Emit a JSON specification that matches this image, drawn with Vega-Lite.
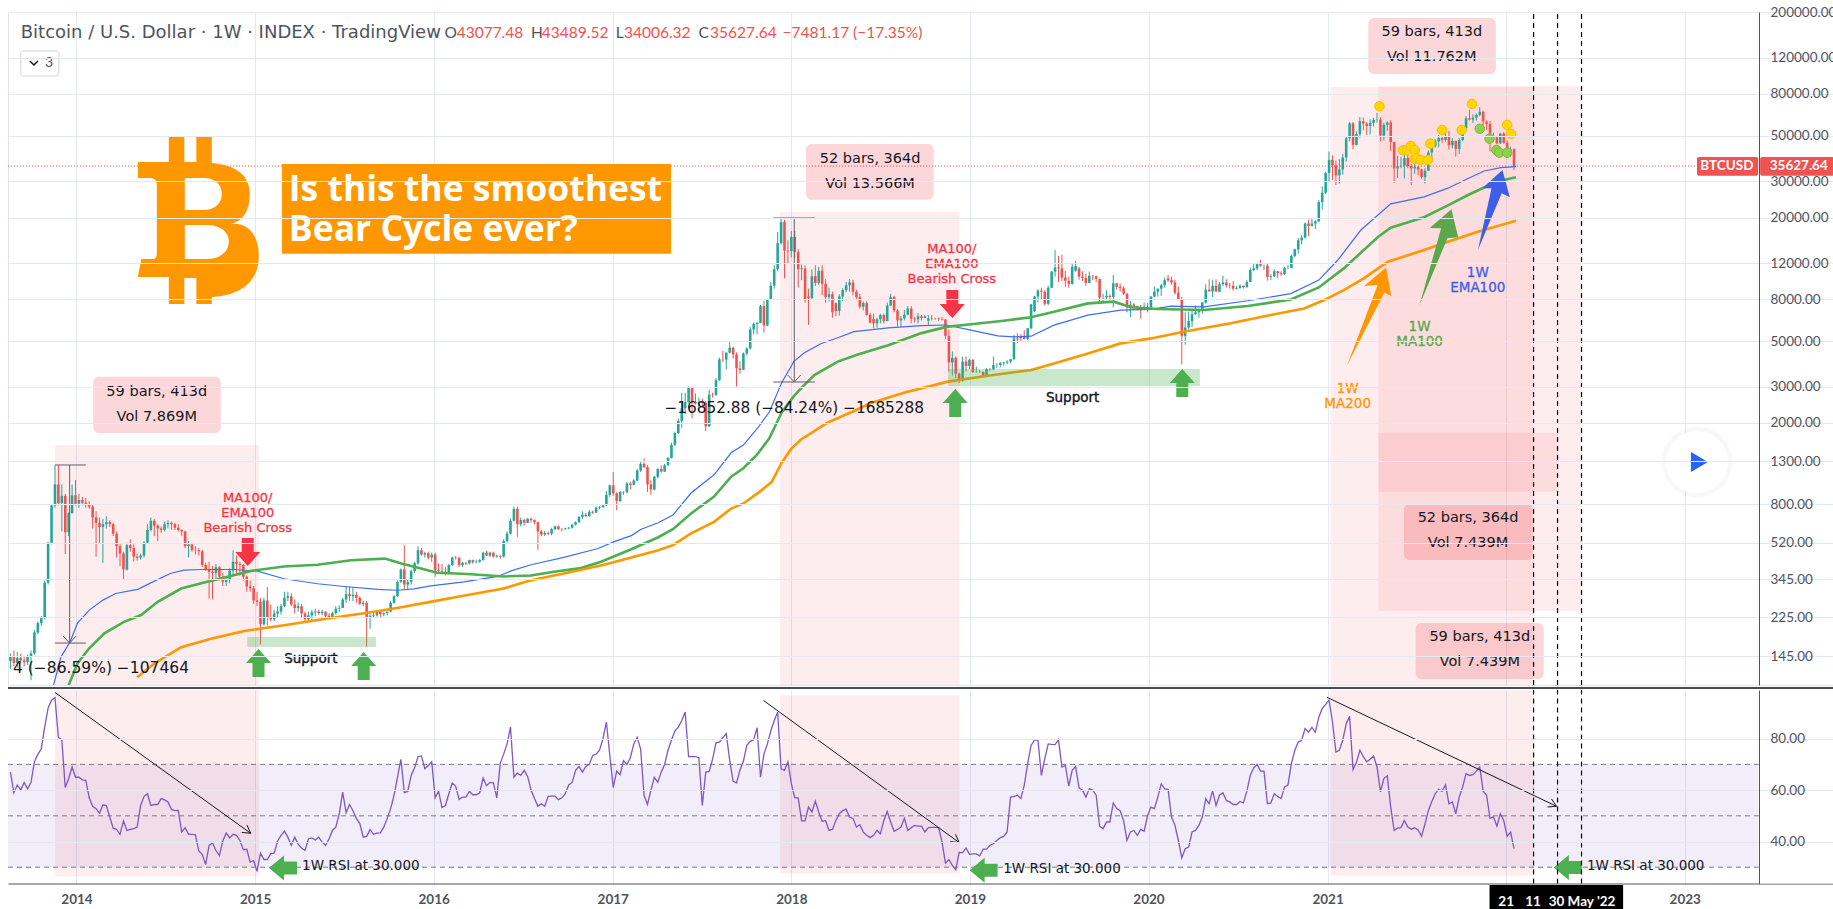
{
"$schema":"https://vega.github.io/schema/vega-lite/v6.json",
"padding":{"left":7,"top":4,"right":0,"bottom":0},
"spacing":0,
"config":{"font":"Lato","view":{"stroke":null},"concat":{"spacing":0}},
"datasets":{
"bars":[
{"d":"2013-08-19","o":138,"h":150,"l":126,"c":146,"r":67},{"d":"2013-08-26","o":146,"h":155,"l":130,"c":135,"r":59},{"d":"2013-09-02","o":135,"h":153,"l":128,"c":143,"r":62},{"d":"2013-09-09","o":143,"h":150,"l":134,"c":139,"r":60},{"d":"2013-09-16","o":139,"h":146,"l":130,"c":136,"r":63},{"d":"2013-09-23","o":136,"h":148,"l":132,"c":145,"r":60.5},{"d":"2013-09-30","o":145,"h":155,"l":111,"c":150,"r":63},{"d":"2013-10-07","o":150,"h":195,"l":148,"c":190,"r":71},{"d":"2013-10-14","o":190,"h":215,"l":186,"c":211,"r":74},{"d":"2013-10-21","o":211,"h":228,"l":205,"c":224,"r":76},{"d":"2013-10-28","o":224,"h":340,"l":220,"c":332,"r":84.5},{"d":"2013-11-04","o":332,"h":525,"l":325,"c":520,"r":92},{"d":"2013-11-11","o":520,"h":800,"l":510,"c":790,"r":95},{"d":"2013-11-18","o":790,"h":1241,"l":770,"c":1000,"r":96},{"d":"2013-11-25","o":1000,"h":1241,"l":790,"c":810,"r":80.5},{"d":"2013-12-02","o":810,"h":1000,"l":590,"c":880,"r":79.6},{"d":"2013-12-09","o":880,"h":900,"l":458,"c":585,"r":61},{"d":"2013-12-16","o":585,"h":730,"l":560,"c":725,"r":64.5},{"d":"2013-12-23","o":725,"h":1000,"l":720,"c":885,"r":69},{"d":"2013-12-30","o":885,"h":1050,"l":790,"c":805,"r":65},
{"d":"2014-01-06","o":805,"h":900,"l":770,"c":840,"r":65},{"d":"2014-01-13","o":840,"h":870,"l":790,"c":815,"r":64},{"d":"2014-01-20","o":815,"h":860,"l":770,"c":800,"r":63.8},{"d":"2014-01-27","o":800,"h":830,"l":760,"c":780,"r":57},{"d":"2014-02-03","o":780,"h":800,"l":610,"c":690,"r":53.7},{"d":"2014-02-10","o":690,"h":740,"l":445,"c":650,"r":52.8},{"d":"2014-02-17","o":650,"h":690,"l":520,"c":620,"r":51},{"d":"2014-02-24","o":620,"h":680,"l":415,"c":640,"r":54.3},{"d":"2014-03-03","o":640,"h":700,"l":610,"c":655,"r":54},{"d":"2014-03-10","o":655,"h":670,"l":620,"c":640,"r":49.5},{"d":"2014-03-17","o":640,"h":650,"l":560,"c":575,"r":45.2},{"d":"2014-03-24","o":575,"h":590,"l":440,"c":500,"r":44.7},{"d":"2014-03-31","o":500,"h":515,"l":400,"c":460,"r":42.8},{"d":"2014-04-07","o":460,"h":470,"l":342,"c":385,"r":48},{"d":"2014-04-14","o":385,"h":520,"l":380,"c":505,"r":44.3},{"d":"2014-04-21","o":505,"h":540,"l":470,"c":490,"r":44.7},{"d":"2014-04-28","o":490,"h":510,"l":420,"c":445,"r":45},{"d":"2014-05-05","o":445,"h":460,"l":425,"c":440,"r":45.6},{"d":"2014-05-12","o":440,"h":460,"l":430,"c":450,"r":54},{"d":"2014-05-19","o":450,"h":530,"l":440,"c":520,"r":57.5},{"d":"2014-05-26","o":520,"h":640,"l":515,"c":600,"r":58.6},{"d":"2014-06-02","o":600,"h":690,"l":590,"c":665,"r":54},{"d":"2014-06-09","o":665,"h":680,"l":560,"c":630,"r":54.4},{"d":"2014-06-16","o":630,"h":640,"l":530,"c":610,"r":54.4},{"d":"2014-06-23","o":610,"h":625,"l":580,"c":600,"r":56.7},{"d":"2014-06-30","o":600,"h":660,"l":590,"c":640,"r":56.2},{"d":"2014-07-07","o":640,"h":670,"l":610,"c":650,"r":55.4},{"d":"2014-07-14","o":650,"h":660,"l":600,"c":640,"r":52.5},{"d":"2014-07-21","o":640,"h":650,"l":600,"c":615,"r":52},{"d":"2014-07-28","o":615,"h":640,"l":590,"c":600,"r":52.1},{"d":"2014-08-04","o":600,"h":605,"l":560,"c":590,"r":43.7},{"d":"2014-08-11","o":590,"h":595,"l":490,"c":500,"r":45.4},{"d":"2014-08-18","o":500,"h":530,"l":440,"c":510,"r":42.8},{"d":"2014-08-25","o":510,"h":520,"l":470,"c":480,"r":42.8},{"d":"2014-09-01","o":480,"h":500,"l":455,"c":478,"r":42.6},{"d":"2014-09-08","o":478,"h":490,"l":450,"c":472,"r":36.3},{"d":"2014-09-15","o":472,"h":480,"l":395,"c":405,"r":35},{"d":"2014-09-22","o":405,"h":415,"l":380,"c":385,"r":31},{"d":"2014-09-29","o":385,"h":420,"l":278,"c":375,"r":38.5},{"d":"2014-10-06","o":375,"h":400,"l":275,"c":370,"r":39.4},{"d":"2014-10-13","o":370,"h":410,"l":350,"c":395,"r":36.5},{"d":"2014-10-20","o":395,"h":400,"l":340,"c":355,"r":34.6},{"d":"2014-10-27","o":355,"h":370,"l":320,"c":335,"r":40.2},{"d":"2014-11-03","o":335,"h":355,"l":320,"c":345,"r":43.3},{"d":"2014-11-10","o":345,"h":390,"l":330,"c":380,"r":41.4},{"d":"2014-11-17","o":380,"h":478,"l":360,"c":420,"r":42.8},{"d":"2014-11-24","o":420,"h":450,"l":370,"c":410,"r":42.4},{"d":"2014-12-01","o":410,"h":420,"l":360,"c":405,"r":40.4},{"d":"2014-12-08","o":405,"h":410,"l":340,"c":355,"r":36.8},{"d":"2014-12-15","o":355,"h":360,"l":300,"c":318,"r":37},{"d":"2014-12-22","o":318,"h":340,"l":300,"c":312,"r":32},{"d":"2014-12-29","o":312,"h":320,"l":262,"c":272,"r":32.6},
{"d":"2015-01-05","o":272,"h":300,"l":255,"c":268,"r":28.4},{"d":"2015-01-12","o":268,"h":280,"l":166,"c":208,"r":35.5},{"d":"2015-01-19","o":208,"h":280,"l":205,"c":272,"r":33},{"d":"2015-01-26","o":272,"h":316,"l":205,"c":225,"r":33},{"d":"2015-02-02","o":225,"h":260,"l":215,"c":220,"r":35.3},{"d":"2015-02-09","o":220,"h":245,"l":215,"c":235,"r":35.5},{"d":"2015-02-16","o":235,"h":255,"l":225,"c":240,"r":40.2},{"d":"2015-02-23","o":240,"h":262,"l":232,"c":255,"r":42.4},{"d":"2015-03-02","o":255,"h":300,"l":252,"c":280,"r":44},{"d":"2015-03-09","o":280,"h":300,"l":270,"c":285,"r":41.7},{"d":"2015-03-16","o":285,"h":295,"l":255,"c":260,"r":38.5},{"d":"2015-03-23","o":260,"h":275,"l":235,"c":250,"r":41.7},{"d":"2015-03-30","o":250,"h":265,"l":240,"c":255,"r":39},{"d":"2015-04-06","o":255,"h":262,"l":225,"c":235,"r":37.5},{"d":"2015-04-13","o":235,"h":240,"l":215,"c":220,"r":36.5},{"d":"2015-04-20","o":220,"h":240,"l":215,"c":230,"r":41},{"d":"2015-04-27","o":230,"h":245,"l":215,"c":238,"r":41.4},{"d":"2015-05-04","o":238,"h":248,"l":228,"c":240,"r":40.6},{"d":"2015-05-11","o":240,"h":245,"l":232,"c":236,"r":41.7},{"d":"2015-05-18","o":236,"h":245,"l":230,"c":240,"r":39.8},{"d":"2015-05-25","o":240,"h":240,"l":225,"c":229,"r":38.5},{"d":"2015-06-01","o":229,"h":235,"l":220,"c":224,"r":41},{"d":"2015-06-08","o":224,"h":240,"l":222,"c":236,"r":44.3},{"d":"2015-06-15","o":236,"h":255,"l":232,"c":248,"r":45.6},{"d":"2015-06-22","o":248,"h":258,"l":240,"c":250,"r":50.8},{"d":"2015-06-29","o":250,"h":280,"l":250,"c":275,"r":59.2},{"d":"2015-07-06","o":275,"h":320,"l":265,"c":292,"r":51.2},{"d":"2015-07-13","o":292,"h":318,"l":270,"c":285,"r":54.4},{"d":"2015-07-20","o":285,"h":315,"l":270,"c":290,"r":52},{"d":"2015-07-27","o":290,"h":300,"l":265,"c":280,"r":49},{"d":"2015-08-03","o":280,"h":285,"l":258,"c":262,"r":47},{"d":"2015-08-10","o":262,"h":272,"l":255,"c":265,"r":41.7},{"d":"2015-08-17","o":265,"h":270,"l":162,"c":225,"r":42},{"d":"2015-08-24","o":225,"h":235,"l":198,"c":228,"r":44.7},{"d":"2015-08-31","o":228,"h":240,"l":224,"c":230,"r":42.8},{"d":"2015-09-07","o":230,"h":245,"l":227,"c":240,"r":43.3},{"d":"2015-09-14","o":240,"h":244,"l":226,"c":233,"r":43.4},{"d":"2015-09-21","o":233,"h":238,"l":228,"c":236,"r":45.6},{"d":"2015-09-28","o":236,"h":240,"l":230,"c":240,"r":49},{"d":"2015-10-05","o":240,"h":270,"l":238,"c":265,"r":52.8},{"d":"2015-10-12","o":265,"h":288,"l":262,"c":285,"r":58},{"d":"2015-10-19","o":285,"h":340,"l":283,"c":335,"r":65},{"d":"2015-10-26","o":335,"h":390,"l":330,"c":385,"r":72},{"d":"2015-11-02","o":385,"h":505,"l":310,"c":325,"r":59},{"d":"2015-11-09","o":325,"h":345,"l":305,"c":335,"r":59.5},{"d":"2015-11-16","o":335,"h":385,"l":325,"c":378,"r":65.7},{"d":"2015-11-23","o":378,"h":420,"l":370,"c":413,"r":68.7},{"d":"2015-11-30","o":413,"h":500,"l":405,"c":478,"r":73},{"d":"2015-12-07","o":478,"h":490,"l":450,"c":455,"r":73.3},{"d":"2015-12-14","o":455,"h":470,"l":440,"c":462,"r":68.3},{"d":"2015-12-21","o":462,"h":470,"l":430,"c":440,"r":69.6},{"d":"2015-12-28","o":440,"h":465,"l":420,"c":455,"r":71},
{"d":"2016-01-04","o":455,"h":465,"l":355,"c":382,"r":57},{"d":"2016-01-11","o":382,"h":412,"l":370,"c":378,"r":59.6},{"d":"2016-01-18","o":378,"h":410,"l":365,"c":375,"r":53.2},{"d":"2016-01-25","o":375,"h":395,"l":360,"c":372,"r":54},{"d":"2016-02-01","o":372,"h":410,"l":365,"c":405,"r":58.6},{"d":"2016-02-08","o":405,"h":445,"l":400,"c":440,"r":62.8},{"d":"2016-02-15","o":440,"h":448,"l":430,"c":438,"r":61.5},{"d":"2016-02-22","o":438,"h":445,"l":395,"c":405,"r":56.4},{"d":"2016-02-29","o":405,"h":420,"l":395,"c":415,"r":57.3},{"d":"2016-03-07","o":415,"h":420,"l":405,"c":412,"r":57.3},{"d":"2016-03-14","o":412,"h":430,"l":408,"c":428,"r":59.5},{"d":"2016-03-21","o":428,"h":430,"l":410,"c":418,"r":58.2},{"d":"2016-03-28","o":418,"h":430,"l":412,"c":420,"r":58.2},{"d":"2016-04-04","o":420,"h":432,"l":415,"c":428,"r":58.9},{"d":"2016-04-11","o":428,"h":470,"l":425,"c":465,"r":64.7},{"d":"2016-04-18","o":465,"h":475,"l":448,"c":450,"r":61.7},{"d":"2016-04-25","o":450,"h":470,"l":442,"c":465,"r":63},{"d":"2016-05-02","o":465,"h":470,"l":440,"c":445,"r":62.8},{"d":"2016-05-09","o":445,"h":455,"l":440,"c":450,"r":57},{"d":"2016-05-16","o":448,"h":455,"l":435,"c":445,"r":70.3},{"d":"2016-05-23","o":445,"h":540,"l":440,"c":530,"r":74},{"d":"2016-05-30","o":530,"h":590,"l":520,"c":576,"r":78},{"d":"2016-06-06","o":576,"h":680,"l":570,"c":665,"r":84.5},{"d":"2016-06-13","o":665,"h":780,"l":660,"c":760,"r":65},{"d":"2016-06-20","o":760,"h":780,"l":555,"c":640,"r":66.6},{"d":"2016-06-27","o":640,"h":690,"l":625,"c":670,"r":65.7},{"d":"2016-07-04","o":670,"h":680,"l":630,"c":650,"r":67.7},{"d":"2016-07-11","o":650,"h":685,"l":648,"c":680,"r":65.3},{"d":"2016-07-18","o":680,"h":690,"l":650,"c":670,"r":60},{"d":"2016-07-25","o":670,"h":675,"l":640,"c":655,"r":56.7},{"d":"2016-08-01","o":655,"h":660,"l":480,"c":590,"r":53.7},{"d":"2016-08-08","o":590,"h":600,"l":560,"c":570,"r":54.7},{"d":"2016-08-15","o":570,"h":595,"l":560,"c":580,"r":53.7},{"d":"2016-08-22","o":580,"h":590,"l":565,"c":575,"r":57.6},{"d":"2016-08-29","o":575,"h":615,"l":565,"c":605,"r":57.7},{"d":"2016-09-05","o":605,"h":630,"l":600,"c":625,"r":57.7},{"d":"2016-09-12","o":625,"h":630,"l":600,"c":607,"r":56.3},{"d":"2016-09-19","o":607,"h":612,"l":590,"c":605,"r":57},{"d":"2016-09-26","o":605,"h":615,"l":600,"c":610,"r":58.6},{"d":"2016-10-03","o":610,"h":620,"l":605,"c":615,"r":62},{"d":"2016-10-10","o":615,"h":640,"l":610,"c":637,"r":63},{"d":"2016-10-17","o":637,"h":660,"l":630,"c":655,"r":67.7},{"d":"2016-10-24","o":655,"h":700,"l":650,"c":695,"r":69.2},{"d":"2016-10-31","o":695,"h":740,"l":680,"c":712,"r":67},{"d":"2016-11-07","o":712,"h":725,"l":695,"c":700,"r":69.2},{"d":"2016-11-14","o":700,"h":750,"l":695,"c":735,"r":70},{"d":"2016-11-21","o":735,"h":745,"l":720,"c":728,"r":73.5},{"d":"2016-11-28","o":728,"h":780,"l":725,"c":770,"r":74},{"d":"2016-12-05","o":770,"h":785,"l":755,"c":775,"r":75.5},{"d":"2016-12-12","o":775,"h":800,"l":770,"c":790,"r":80},{"d":"2016-12-19","o":790,"h":930,"l":785,"c":890,"r":86.5},{"d":"2016-12-26","o":890,"h":1000,"l":870,"c":990,"r":73.5},
{"d":"2017-01-02","o":990,"h":1150,"l":880,"c":905,"r":61},{"d":"2017-01-09","o":905,"h":915,"l":750,"c":830,"r":67.4},{"d":"2017-01-16","o":830,"h":930,"l":820,"c":920,"r":66},{"d":"2017-01-23","o":920,"h":925,"l":890,"c":915,"r":71.5},{"d":"2017-01-30","o":915,"h":1030,"l":905,"c":1010,"r":70},{"d":"2017-02-06","o":1010,"h":1030,"l":945,"c":995,"r":72.6},{"d":"2017-02-13","o":995,"h":1060,"l":990,"c":1045,"r":78},{"d":"2017-02-20","o":1045,"h":1190,"l":1040,"c":1170,"r":80.6},{"d":"2017-02-27","o":1170,"h":1290,"l":1150,"c":1260,"r":76},{"d":"2017-03-06","o":1260,"h":1340,"l":1200,"c":1215,"r":58},{"d":"2017-03-13","o":1215,"h":1240,"l":920,"c":1000,"r":54.4},{"d":"2017-03-20","o":1000,"h":1050,"l":890,"c":945,"r":60},{"d":"2017-03-27","o":945,"h":1100,"l":935,"c":1090,"r":65},{"d":"2017-04-03","o":1090,"h":1200,"l":1070,"c":1190,"r":63},{"d":"2017-04-10","o":1190,"h":1240,"l":1140,"c":1155,"r":67},{"d":"2017-04-17","o":1155,"h":1260,"l":1150,"c":1240,"r":70},{"d":"2017-04-24","o":1240,"h":1360,"l":1230,"c":1345,"r":75.5},{"d":"2017-05-01","o":1345,"h":1600,"l":1340,"c":1560,"r":79.5},{"d":"2017-05-08","o":1560,"h":1810,"l":1540,"c":1780,"r":83},{"d":"2017-05-15","o":1780,"h":2090,"l":1760,"c":2040,"r":84.5},{"d":"2017-05-22","o":2040,"h":2800,"l":1890,"c":2350,"r":87},{"d":"2017-05-29","o":2350,"h":2800,"l":2200,"c":2520,"r":90.4},{"d":"2017-06-05","o":2520,"h":3000,"l":2500,"c":2960,"r":73},{"d":"2017-06-12","o":2960,"h":3000,"l":2100,"c":2530,"r":73},{"d":"2017-06-19","o":2530,"h":2780,"l":2450,"c":2480,"r":73},{"d":"2017-06-26","o":2480,"h":2650,"l":2300,"c":2510,"r":72.6},{"d":"2017-07-03","o":2510,"h":2620,"l":2400,"c":2500,"r":54},{"d":"2017-07-10","o":2500,"h":2550,"l":1820,"c":1920,"r":67},{"d":"2017-07-17","o":1920,"h":2900,"l":1900,"c":2740,"r":67.3},{"d":"2017-07-24","o":2740,"h":2800,"l":2650,"c":2730,"r":72},{"d":"2017-07-31","o":2730,"h":3300,"l":2700,"c":3220,"r":78.4},{"d":"2017-08-07","o":3220,"h":4150,"l":3200,"c":4070,"r":78.7},{"d":"2017-08-14","o":4070,"h":4480,"l":3950,"c":4060,"r":80.4},{"d":"2017-08-21","o":4060,"h":4400,"l":3630,"c":4390,"r":82},{"d":"2017-08-28","o":4390,"h":5000,"l":4350,"c":4640,"r":71.6},{"d":"2017-09-04","o":4640,"h":4700,"l":4100,"c":4300,"r":63.4},{"d":"2017-09-11","o":4300,"h":4400,"l":3000,"c":3680,"r":62.8},{"d":"2017-09-18","o":3680,"h":3980,"l":3460,"c":3620,"r":67.8},{"d":"2017-09-25","o":3620,"h":4400,"l":3600,"c":4350,"r":71.2},{"d":"2017-10-02","o":4350,"h":4650,"l":4250,"c":4600,"r":77.4},{"d":"2017-10-09","o":4600,"h":5850,"l":4550,"c":5700,"r":79},{"d":"2017-10-16","o":5700,"h":6150,"l":5400,"c":6050,"r":79.6},{"d":"2017-10-23","o":6050,"h":6200,"l":5400,"c":6130,"r":84.3},{"d":"2017-10-30","o":6130,"h":7500,"l":6100,"c":7400,"r":65},{"d":"2017-11-06","o":7400,"h":7850,"l":5500,"c":5950,"r":74},{"d":"2017-11-13","o":5950,"h":8050,"l":5900,"c":7980,"r":78},{"d":"2017-11-20","o":7980,"h":9700,"l":7950,"c":9300,"r":83},{"d":"2017-11-27","o":9300,"h":11700,"l":9000,"c":11200,"r":87},{"d":"2017-12-04","o":11200,"h":17000,"l":11000,"c":15000,"r":90.4},{"d":"2017-12-11","o":15000,"h":19890,"l":14800,"c":19000,"r":68.3},{"d":"2017-12-18","o":19000,"h":19500,"l":10100,"c":13800,"r":67.7},{"d":"2017-12-25","o":13800,"h":15500,"l":12000,"c":13700,"r":71},
{"d":"2018-01-01","o":13700,"h":17200,"l":12800,"c":16100,"r":62.5},{"d":"2018-01-08","o":16100,"h":17200,"l":12700,"c":13600,"r":57},{"d":"2018-01-15","o":13600,"h":14000,"l":9100,"c":11200,"r":57},{"d":"2018-01-22","o":11200,"h":11800,"l":9900,"c":11300,"r":48},{"d":"2018-01-29","o":11300,"h":11700,"l":7700,"c":8000,"r":48},{"d":"2018-02-05","o":8250,"h":9000,"l":5990,"c":8100,"r":53.4},{"d":"2018-02-12","o":8100,"h":11200,"l":8000,"c":10350,"r":51.5},{"d":"2018-02-19","o":10350,"h":11700,"l":9300,"c":9600,"r":55.7},{"d":"2018-02-26","o":9600,"h":11500,"l":9400,"c":11000,"r":51.5},{"d":"2018-03-05","o":11000,"h":11700,"l":8350,"c":9500,"r":47.8},{"d":"2018-03-12","o":9500,"h":10000,"l":7700,"c":8200,"r":48.2},{"d":"2018-03-19","o":8200,"h":9100,"l":7800,"c":8450,"r":44.3},{"d":"2018-03-26","o":8450,"h":8700,"l":6500,"c":6900,"r":44.7},{"d":"2018-04-02","o":7650,"h":7700,"l":6600,"c":7000,"r":48.2},{"d":"2018-04-09","o":7000,"h":8450,"l":6650,"c":8250,"r":50.8},{"d":"2018-04-16","o":8250,"h":9050,"l":7800,"c":8850,"r":52},{"d":"2018-04-23","o":8850,"h":9700,"l":8650,"c":9350,"r":52.6},{"d":"2018-04-30","o":9350,"h":10000,"l":8700,"c":9650,"r":49.5},{"d":"2018-05-07","o":9650,"h":9950,"l":8350,"c":8700,"r":49},{"d":"2018-05-14","o":8700,"h":8900,"l":7950,"c":8200,"r":45.6},{"d":"2018-05-21","o":8200,"h":8500,"l":7200,"c":7350,"r":46.5},{"d":"2018-05-28","o":7350,"h":7800,"l":7050,"c":7650,"r":43.7},{"d":"2018-06-04","o":7650,"h":7800,"l":6650,"c":6700,"r":42.4},{"d":"2018-06-11","o":6700,"h":6850,"l":6100,"c":6150,"r":41.5},{"d":"2018-06-18","o":6400,"h":6800,"l":5770,"c":6100,"r":42.4},{"d":"2018-06-25","o":6100,"h":6500,"l":5800,"c":6380,"r":44.3},{"d":"2018-07-02","o":6380,"h":6800,"l":6100,"c":6700,"r":43},{"d":"2018-07-09","o":6700,"h":6800,"l":6100,"c":6260,"r":48.2},{"d":"2018-07-16","o":6260,"h":7700,"l":6250,"c":7450,"r":51.7},{"d":"2018-07-23","o":7450,"h":8500,"l":7400,"c":8200,"r":47.6},{"d":"2018-07-30","o":8200,"h":8300,"l":6900,"c":7050,"r":44},{"d":"2018-08-06","o":7050,"h":7150,"l":5900,"c":6300,"r":44.7},{"d":"2018-08-13","o":6300,"h":6600,"l":5880,"c":6450,"r":45.6},{"d":"2018-08-20","o":6450,"h":7100,"l":6300,"c":6720,"r":49},{"d":"2018-08-27","o":6720,"h":7400,"l":6670,"c":7200,"r":44.3},{"d":"2018-09-03","o":7200,"h":7400,"l":6100,"c":6420,"r":45.4},{"d":"2018-09-10","o":6420,"h":6550,"l":6150,"c":6380,"r":46.3},{"d":"2018-09-17","o":6380,"h":6850,"l":6100,"c":6600,"r":46},{"d":"2018-09-24","o":6600,"h":6700,"l":6300,"c":6480,"r":46},{"d":"2018-10-01","o":6480,"h":6700,"l":6450,"c":6600,"r":43.7},{"d":"2018-10-08","o":6300,"h":6700,"l":6000,"c":6450,"r":45.4},{"d":"2018-10-15","o":6450,"h":6700,"l":6300,"c":6420,"r":45.5},{"d":"2018-10-22","o":6420,"h":6500,"l":6350,"c":6430,"r":45.5},{"d":"2018-10-29","o":6430,"h":6520,"l":6280,"c":6400,"r":45.4},{"d":"2018-11-05","o":6400,"h":6550,"l":6300,"c":6370,"r":39.8},{"d":"2018-11-12","o":6370,"h":6400,"l":5100,"c":5300,"r":31.6},{"d":"2018-11-19","o":5300,"h":5700,"l":3550,"c":3930,"r":33},{"d":"2018-11-26","o":3930,"h":4450,"l":3400,"c":4140,"r":30.7},{"d":"2018-12-03","o":4140,"h":4200,"l":3300,"c":3470,"r":29},{"d":"2018-12-10","o":3470,"h":3500,"l":3120,"c":3200,"r":35.8},{"d":"2018-12-17","o":3200,"h":4200,"l":3170,"c":3970,"r":35.6},{"d":"2018-12-24","o":3970,"h":4200,"l":3550,"c":3780,"r":37.5},{"d":"2018-12-31","o":3780,"h":4100,"l":3650,"c":4050,"r":35},
{"d":"2019-01-07","o":4050,"h":4080,"l":3500,"c":3530,"r":35.2},{"d":"2019-01-14","o":3530,"h":3750,"l":3500,"c":3540,"r":35.2},{"d":"2019-01-21","o":3540,"h":3620,"l":3500,"c":3530,"r":34.4},{"d":"2019-01-28","o":3530,"h":3560,"l":3350,"c":3400,"r":37},{"d":"2019-02-04","o":3400,"h":3680,"l":3370,"c":3650,"r":37},{"d":"2019-02-11","o":3650,"h":3700,"l":3580,"c":3640,"r":38.5},{"d":"2019-02-18","o":3640,"h":4200,"l":3620,"c":3820,"r":39.1},{"d":"2019-02-25","o":3820,"h":3900,"l":3700,"c":3820,"r":40.4},{"d":"2019-03-04","o":3820,"h":3950,"l":3720,"c":3900,"r":41.5},{"d":"2019-03-11","o":3900,"h":3950,"l":3800,"c":3930,"r":42},{"d":"2019-03-18","o":3930,"h":4030,"l":3850,"c":3970,"r":43.7},{"d":"2019-03-25","o":3970,"h":4080,"l":3900,"c":4080,"r":57.3},{"d":"2019-04-01","o":4080,"h":5350,"l":4050,"c":5150,"r":57.5},{"d":"2019-04-08","o":5150,"h":5470,"l":4900,"c":5080,"r":58},{"d":"2019-04-15","o":5300,"h":5400,"l":4950,"c":5170,"r":56.7},{"d":"2019-04-22","o":5300,"h":5650,"l":5100,"c":5120,"r":61.8},{"d":"2019-04-29","o":5120,"h":5800,"l":5050,"c":5770,"r":70.3},{"d":"2019-05-06","o":5770,"h":7600,"l":5700,"c":7550,"r":77.4},{"d":"2019-05-13","o":7000,"h":8300,"l":6900,"c":8240,"r":79.5},{"d":"2019-05-20","o":8240,"h":8950,"l":7700,"c":8800,"r":79.6},{"d":"2019-05-27","o":8800,"h":9100,"l":8000,"c":8700,"r":65.7},{"d":"2019-06-03","o":8700,"h":8850,"l":7450,"c":7600,"r":72.2},{"d":"2019-06-10","o":7600,"h":9300,"l":7500,"c":9100,"r":78},{"d":"2019-06-17","o":9100,"h":11000,"l":9050,"c":10900,"r":77.8},{"d":"2019-06-24","o":10900,"h":13900,"l":10300,"c":11400,"r":77.7},{"d":"2019-07-01","o":11400,"h":13000,"l":9700,"c":11300,"r":79.6},{"d":"2019-07-08","o":11300,"h":13200,"l":9800,"c":10200,"r":69},{"d":"2019-07-15","o":10200,"h":11000,"l":9200,"c":9850,"r":69.6},{"d":"2019-07-22","o":9850,"h":10300,"l":9100,"c":9500,"r":61.6},{"d":"2019-07-29","o":9500,"h":11900,"l":9400,"c":11500,"r":67.7},{"d":"2019-08-05","o":11000,"h":12300,"l":10900,"c":11600,"r":69.2},{"d":"2019-08-12","o":11300,"h":11500,"l":9950,"c":10300,"r":60.9},{"d":"2019-08-19","o":10300,"h":10950,"l":9800,"c":10150,"r":60},{"d":"2019-08-26","o":10150,"h":10650,"l":9300,"c":9600,"r":57.3},{"d":"2019-09-02","o":9600,"h":10900,"l":9550,"c":10400,"r":60.5},{"d":"2019-09-09","o":10400,"h":10500,"l":9900,"c":10350,"r":60},{"d":"2019-09-16","o":10350,"h":10400,"l":9700,"c":10050,"r":58},{"d":"2019-09-23","o":10050,"h":10050,"l":7700,"c":8140,"r":46},{"d":"2019-09-30","o":8140,"h":8500,"l":7800,"c":8150,"r":45},{"d":"2019-10-07","o":8150,"h":8850,"l":8000,"c":8300,"r":47.6},{"d":"2019-10-14","o":8300,"h":8450,"l":7900,"c":8200,"r":47.6},{"d":"2019-10-21","o":8200,"h":10500,"l":7300,"c":9550,"r":55},{"d":"2019-10-28","o":9550,"h":9600,"l":8900,"c":9200,"r":52.8},{"d":"2019-11-04","o":9200,"h":9550,"l":8700,"c":9050,"r":52},{"d":"2019-11-11","o":9050,"h":9250,"l":8400,"c":8500,"r":48.2},{"d":"2019-11-18","o":8500,"h":8600,"l":6900,"c":7300,"r":40.4},{"d":"2019-11-25","o":7300,"h":7850,"l":6550,"c":7530,"r":43.7},{"d":"2019-12-02","o":7530,"h":7650,"l":7100,"c":7400,"r":44.3},{"d":"2019-12-09","o":7400,"h":7450,"l":7100,"c":7200,"r":42.4},{"d":"2019-12-16","o":7200,"h":7500,"l":6430,"c":7150,"r":44.7},{"d":"2019-12-23","o":7150,"h":7700,"l":7100,"c":7250,"r":44},{"d":"2019-12-30","o":7250,"h":7650,"l":6900,"c":7300,"r":50},
{"d":"2020-01-06","o":7300,"h":8250,"l":7200,"c":8240,"r":53.4},{"d":"2020-01-13","o":8240,"h":9200,"l":8150,"c":8700,"r":52.8},{"d":"2020-01-20","o":8700,"h":9000,"l":8250,"c":9000,"r":57.3},{"d":"2020-01-27","o":9000,"h":9500,"l":8300,"c":9350,"r":62.4},{"d":"2020-02-03","o":9350,"h":10200,"l":9100,"c":9900,"r":60.5},{"d":"2020-02-10","o":10100,"h":10500,"l":9700,"c":9900,"r":60.3},{"d":"2020-02-17","o":9900,"h":10300,"l":9400,"c":9650,"r":49.5},{"d":"2020-02-24","o":9650,"h":9950,"l":8400,"c":8600,"r":46.3},{"d":"2020-03-02","o":8600,"h":9200,"l":7900,"c":7950,"r":40.4},{"d":"2020-03-09","o":7950,"h":8200,"l":3850,"c":5300,"r":33.6},{"d":"2020-03-16","o":5300,"h":6900,"l":4800,"c":5820,"r":37.2},{"d":"2020-03-23","o":5820,"h":6950,"l":5700,"c":6250,"r":37.8},{"d":"2020-03-30","o":6250,"h":7150,"l":5850,"c":6750,"r":43.7},{"d":"2020-04-06","o":6750,"h":7450,"l":6700,"c":6900,"r":44.3},{"d":"2020-04-13","o":6900,"h":7200,"l":6500,"c":7100,"r":46.3},{"d":"2020-04-20","o":7100,"h":7750,"l":6800,"c":7700,"r":49.5},{"d":"2020-04-27","o":7700,"h":9450,"l":7600,"c":8900,"r":56.7},{"d":"2020-05-04","o":8900,"h":10000,"l":8800,"c":8720,"r":54.7},{"d":"2020-05-11","o":8720,"h":9950,"l":8200,"c":9300,"r":59.8},{"d":"2020-05-18","o":9300,"h":10000,"l":8800,"c":8700,"r":54},{"d":"2020-05-25","o":8700,"h":9700,"l":8650,"c":9450,"r":58},{"d":"2020-06-01","o":9450,"h":10400,"l":9300,"c":9650,"r":59},{"d":"2020-06-08","o":9650,"h":10000,"l":9100,"c":9330,"r":56},{"d":"2020-06-15","o":9330,"h":9600,"l":9000,"c":9300,"r":55.4},{"d":"2020-06-22","o":9300,"h":9800,"l":8800,"c":9000,"r":54.4},{"d":"2020-06-29","o":9000,"h":9300,"l":8900,"c":9070,"r":54.4},{"d":"2020-07-06","o":9070,"h":9450,"l":9000,"c":9300,"r":55.6},{"d":"2020-07-13","o":9300,"h":9350,"l":9000,"c":9150,"r":55},{"d":"2020-07-20","o":9150,"h":9900,"l":9100,"c":9700,"r":59.6},{"d":"2020-07-27","o":9700,"h":11400,"l":9700,"c":11100,"r":65.7},{"d":"2020-08-03","o":11100,"h":11900,"l":10950,"c":11300,"r":68.7},{"d":"2020-08-10","o":11300,"h":12050,"l":11100,"c":11850,"r":70},{"d":"2020-08-17","o":11850,"h":12450,"l":11500,"c":11650,"r":67.4},{"d":"2020-08-24","o":11650,"h":11800,"l":11100,"c":11650,"r":67.4},{"d":"2020-08-31","o":11650,"h":12000,"l":9850,"c":10250,"r":54.7},{"d":"2020-09-07","o":10250,"h":10600,"l":9900,"c":10330,"r":55},{"d":"2020-09-14","o":10330,"h":11200,"l":10250,"c":10950,"r":58.6},{"d":"2020-09-21","o":10950,"h":10950,"l":10150,"c":10700,"r":57.5},{"d":"2020-09-28","o":10700,"h":10950,"l":10400,"c":10600,"r":56.7},{"d":"2020-10-05","o":10600,"h":11500,"l":10500,"c":11350,"r":61.2},{"d":"2020-10-12","o":11350,"h":11750,"l":11200,"c":11350,"r":62},{"d":"2020-10-19","o":11350,"h":13200,"l":11350,"c":13000,"r":70.3},{"d":"2020-10-26","o":13000,"h":14100,"l":12800,"c":14000,"r":75.5},{"d":"2020-11-02","o":14000,"h":15900,"l":13300,"c":15500,"r":78.7},{"d":"2020-11-09","o":15500,"h":16500,"l":14800,"c":15950,"r":79.4},{"d":"2020-11-16","o":15950,"h":18900,"l":15800,"c":18700,"r":84},{"d":"2020-11-23","o":18700,"h":19500,"l":16200,"c":18200,"r":82.5},{"d":"2020-11-30","o":18200,"h":19900,"l":18100,"c":18700,"r":84.4},{"d":"2020-12-07","o":18700,"h":19400,"l":17600,"c":19150,"r":82.5},{"d":"2020-12-14","o":19150,"h":24300,"l":19000,"c":23800,"r":88.4},{"d":"2020-12-21","o":23800,"h":28400,"l":21900,"c":26400,"r":91.7},{"d":"2020-12-28","o":26400,"h":33300,"l":26000,"c":33000,"r":93.4},
{"d":"2021-01-04","o":33000,"h":41900,"l":30000,"c":38200,"r":95},{"d":"2021-01-11","o":38200,"h":40100,"l":30400,"c":36000,"r":86.5},{"d":"2021-01-18","o":36000,"h":37900,"l":28800,"c":32100,"r":74.8},{"d":"2021-01-25","o":32100,"h":38500,"l":29200,"c":34300,"r":75.5},{"d":"2021-02-01","o":34300,"h":40900,"l":32300,"c":39200,"r":79.4},{"d":"2021-02-08","o":39200,"h":49700,"l":37400,"c":48700,"r":85.8},{"d":"2021-02-15","o":48700,"h":58300,"l":47000,"c":57500,"r":88.7},{"d":"2021-02-22","o":57500,"h":58400,"l":43000,"c":45200,"r":68},{"d":"2021-03-01","o":45200,"h":52600,"l":44900,"c":51000,"r":70.8},{"d":"2021-03-08","o":51000,"h":61700,"l":49000,"c":59000,"r":75.5},{"d":"2021-03-15","o":59000,"h":61500,"l":53200,"c":57400,"r":73},{"d":"2021-03-22","o":57400,"h":58400,"l":50400,"c":55800,"r":71},{"d":"2021-03-29","o":55800,"h":60100,"l":50800,"c":57900,"r":72},{"d":"2021-04-05","o":57900,"h":61200,"l":55500,"c":59800,"r":73.3},{"d":"2021-04-12","o":59800,"h":64800,"l":58000,"c":60000,"r":69},{"d":"2021-04-19","o":60000,"h":61600,"l":47000,"c":50200,"r":59.3},{"d":"2021-04-26","o":50200,"h":57900,"l":47500,"c":56600,"r":64.5},{"d":"2021-05-03","o":56600,"h":58900,"l":52900,"c":58200,"r":65.6},{"d":"2021-05-10","o":58200,"h":59600,"l":42100,"c":46700,"r":53.4},{"d":"2021-05-17","o":46700,"h":46800,"l":29500,"c":34700,"r":44.3},{"d":"2021-05-24","o":34700,"h":40000,"l":31200,"c":35600,"r":45.2},{"d":"2021-05-31","o":35600,"h":39500,"l":34800,"c":35800,"r":45.4},{"d":"2021-06-07","o":35800,"h":41300,"l":31000,"c":39000,"r":48.2},{"d":"2021-06-14","o":39000,"h":41300,"l":34800,"c":35600,"r":45.6},{"d":"2021-06-21","o":35600,"h":36500,"l":28800,"c":34700,"r":44.8},{"d":"2021-06-28","o":34700,"h":36600,"l":32700,"c":35300,"r":45.4},{"d":"2021-07-05","o":35300,"h":35700,"l":32100,"c":34250,"r":44.5},{"d":"2021-07-12","o":34250,"h":34600,"l":31000,"c":31500,"r":42},{"d":"2021-07-19","o":31500,"h":34800,"l":29300,"c":33800,"r":46.8},{"d":"2021-07-26","o":33800,"h":42500,"l":33800,"c":41500,"r":52},{"d":"2021-08-02","o":41500,"h":46000,"l":37300,"c":44600,"r":55.6},{"d":"2021-08-09","o":44600,"h":48100,"l":43800,"c":47000,"r":58.6},{"d":"2021-08-16","o":47000,"h":50500,"l":43900,"c":48800,"r":60.3},{"d":"2021-08-23","o":48800,"h":50000,"l":46300,"c":47800,"r":59.5},{"d":"2021-08-30","o":47800,"h":52900,"l":46800,"c":49900,"r":62},{"d":"2021-09-06","o":49900,"h":52900,"l":42900,"c":45000,"r":54.7},{"d":"2021-09-13","o":45000,"h":48800,"l":43400,"c":47200,"r":55.4},{"d":"2021-09-20","o":47200,"h":47500,"l":39600,"c":43200,"r":50.8},{"d":"2021-09-27","o":43200,"h":49000,"l":40800,"c":47700,"r":57.3},{"d":"2021-10-04","o":47700,"h":56000,"l":47100,"c":54600,"r":61.2},{"d":"2021-10-11","o":54600,"h":62400,"l":54100,"c":60900,"r":66.4},{"d":"2021-10-18","o":60900,"h":67000,"l":59500,"c":60000,"r":65.7},{"d":"2021-10-25","o":60000,"h":63700,"l":57800,"c":61300,"r":66},{"d":"2021-11-01","o":61300,"h":64300,"l":59400,"c":63300,"r":67.4},{"d":"2021-11-08","o":63300,"h":69000,"l":62300,"c":65500,"r":69},{"d":"2021-11-15","o":65500,"h":66300,"l":55600,"c":58700,"r":59.6},{"d":"2021-11-22","o":58700,"h":59500,"l":53500,"c":57200,"r":58},{"d":"2021-11-29","o":57200,"h":59100,"l":42000,"c":49300,"r":49},{"d":"2021-12-06","o":49300,"h":51900,"l":46800,"c":49300,"r":49.6},{"d":"2021-12-13","o":49300,"h":49500,"l":45500,"c":46000,"r":46},{"d":"2021-12-20","o":46000,"h":51800,"l":45600,"c":51300,"r":50.8},{"d":"2021-12-27","o":51300,"h":52100,"l":45800,"c":46300,"r":48.2},{"d":"2022-01-03","o":46300,"h":47500,"l":41000,"c":43400,"r":42},{"d":"2022-01-10","o":42700,"h":44300,"l":39600,"c":43000,"r":43.7},{"d":"2022-01-17","o":43077.48,"h":43489.52,"l":34006.32,"c":35627.64,"r":37.2}
],
"ema":[{"d":"2013-11-15","p":105},{"d":"2013-11-30","p":144},{"d":"2013-12-19","p":171},{"d":"2014-01-03","p":211},{"d":"2014-01-27","p":244},{"d":"2014-02-24","p":273},{"d":"2014-03-22","p":294},{"d":"2014-05-06","p":308},{"d":"2014-06-09","p":338},{"d":"2014-07-13","p":369},{"d":"2014-08-09","p":382},{"d":"2014-09-12","p":385},{"d":"2014-11-19","p":385},{"d":"2015-01-06","p":378},{"d":"2015-03-01","p":347},{"d":"2015-05-09","p":328},{"d":"2015-07-02","p":318},{"d":"2015-09-09","p":308},{"d":"2015-10-19","p":305},{"d":"2015-11-22","p":310},{"d":"2015-12-26","p":320},{"d":"2016-03-03","p":335},{"d":"2016-05-11","p":356},{"d":"2016-06-07","p":379},{"d":"2016-07-18","p":406},{"d":"2016-09-23","p":441},{"d":"2016-12-02","p":487},{"d":"2017-01-04","p":526},{"d":"2017-02-08","p":563},{"d":"2017-02-28","p":605},{"d":"2017-04-04","p":650},{"d":"2017-05-04","p":709},{"d":"2017-06-10","p":908},{"d":"2017-07-27","p":1114},{"d":"2017-08-31","p":1427},{"d":"2017-09-25","p":1555},{"d":"2017-10-26","p":1910},{"d":"2017-11-17","p":2254},{"d":"2017-12-12","p":3120},{"d":"2018-01-06","p":3970},{"d":"2018-01-27","p":4370},{"d":"2018-03-02","p":4850},{"d":"2018-04-06","p":5190},{"d":"2018-05-09","p":5560},{"d":"2018-07-18","p":5800},{"d":"2018-09-24","p":5940},{"d":"2018-11-14","p":5985},{"d":"2019-01-03","p":5655},{"d":"2019-02-27","p":5300},{"d":"2019-04-01","p":5240},{"d":"2019-05-06","p":5280},{"d":"2019-06-22","p":5980},{"d":"2019-08-30","p":6690},{"d":"2019-11-05","p":7079},{"d":"2020-01-06","p":7135},{"d":"2020-02-16","p":7400},{"d":"2020-04-23","p":7340},{"d":"2020-07-22","p":7860},{"d":"2020-10-18","p":8510},{"d":"2020-12-14","p":9914},{"d":"2021-01-22","p":12410},{"d":"2021-03-10","p":17380},{"d":"2021-04-14","p":20560},{"d":"2021-05-10","p":23300},{"d":"2021-07-17","p":25230},{"d":"2021-09-04","p":27800},{"d":"2021-10-15","p":31000},{"d":"2021-11-17","p":33700},{"d":"2021-12-21","p":35000},{"d":"2022-01-21","p":35400}],
"ma100":[{"d":"2013-12-16","p":105},{"d":"2014-01-03","p":134},{"d":"2014-01-27","p":159},{"d":"2014-02-27","p":188},{"d":"2014-04-08","p":214},{"d":"2014-05-13","p":231},{"d":"2014-06-16","p":268},{"d":"2014-08-03","p":311},{"d":"2014-09-19","p":333},{"d":"2014-11-06","p":355},{"d":"2014-12-24","p":379},{"d":"2015-03-01","p":398},{"d":"2015-05-09","p":406},{"d":"2015-07-16","p":427},{"d":"2015-09-23","p":435},{"d":"2015-10-27","p":412},{"d":"2015-12-06","p":389},{"d":"2016-01-08","p":371},{"d":"2016-03-10","p":366},{"d":"2016-05-23","p":356},{"d":"2016-07-18","p":360},{"d":"2016-09-03","p":375},{"d":"2016-10-28","p":391},{"d":"2016-12-08","p":420},{"d":"2017-02-08","p":483},{"d":"2017-04-04","p":553},{"d":"2017-05-04","p":605},{"d":"2017-06-10","p":722},{"d":"2017-07-27","p":872},{"d":"2017-08-31","p":1090},{"d":"2017-09-25","p":1200},{"d":"2017-10-22","p":1388},{"d":"2017-11-17","p":1680},{"d":"2017-12-12","p":2235},{"d":"2018-01-05","p":2670},{"d":"2018-01-21","p":2950},{"d":"2018-02-17","p":3410},{"d":"2018-04-06","p":3970},{"d":"2018-05-17","p":4300},{"d":"2018-07-18","p":4770},{"d":"2018-09-24","p":5465},{"d":"2018-11-14","p":5860},{"d":"2019-01-03","p":6040},{"d":"2019-03-11","p":6280},{"d":"2019-05-06","p":6530},{"d":"2019-06-22","p":6940},{"d":"2019-08-30","p":7630},{"d":"2019-10-22","p":7780},{"d":"2019-11-26","p":7300},{"d":"2020-01-20","p":7160},{"d":"2020-04-23","p":7079},{"d":"2020-07-22","p":7410},{"d":"2020-10-18","p":7975},{"d":"2020-12-14","p":9120},{"d":"2021-02-03","p":11300},{"d":"2021-04-14","p":16070},{"d":"2021-05-10","p":17850},{"d":"2021-07-17","p":20060},{"d":"2021-09-04","p":22900},{"d":"2021-10-15","p":25750},{"d":"2021-11-17","p":28000},{"d":"2021-12-21","p":30200},{"d":"2022-01-21","p":31400}],
"ma200":[{"d":"2014-05-05","p":115},{"d":"2014-06-09","p":134},{"d":"2014-08-03","p":161},{"d":"2014-10-03","p":177},{"d":"2014-12-10","p":193},{"d":"2015-03-01","p":206},{"d":"2015-05-29","p":222},{"d":"2015-08-19","p":237},{"d":"2015-10-27","p":252},{"d":"2016-01-02","p":270},{"d":"2016-03-10","p":289},{"d":"2016-05-23","p":311},{"d":"2016-07-18","p":341},{"d":"2016-09-23","p":368},{"d":"2016-12-14","p":406},{"d":"2017-02-08","p":440},{"d":"2017-04-04","p":478},{"d":"2017-05-04","p":506},{"d":"2017-06-10","p":577},{"d":"2017-07-27","p":657},{"d":"2017-08-31","p":763},{"d":"2017-09-25","p":808},{"d":"2017-10-28","p":920},{"d":"2017-11-22","p":1030},{"d":"2017-12-12","p":1273},{"d":"2018-01-01","p":1494},{"d":"2018-01-21","p":1657},{"d":"2018-03-15","p":1995},{"d":"2018-05-09","p":2280},{"d":"2018-06-13","p":2495},{"d":"2018-08-19","p":2800},{"d":"2018-11-17","p":3170},{"d":"2019-02-06","p":3390},{"d":"2019-05-06","p":3609},{"d":"2019-06-22","p":3890},{"d":"2019-08-30","p":4350},{"d":"2019-11-05","p":4870},{"d":"2020-01-06","p":5150},{"d":"2020-03-13","p":5550},{"d":"2020-06-17","p":6100},{"d":"2020-09-07","p":6690},{"d":"2020-11-14","p":7200},{"d":"2020-12-25","p":7920},{"d":"2021-02-03","p":8861},{"d":"2021-03-16","p":10100},{"d":"2021-05-04","p":12170},{"d":"2021-07-17","p":13880},{"d":"2021-09-04","p":15240},{"d":"2021-11-04","p":17050},{"d":"2022-01-21","p":19300}],
"ranges":[{"d":"2013-11-18","d2":"2015-01-09","p":105.3,"p2":1557},{"d":"2017-12-09","d2":"2018-12-11","p":105.3,"p2":21280},{"d":"2021-01-07","d2":"2022-02-26","p":105.3,"p2":86530},{"d":"2021-04-15","d2":"2022-06-04","p":241.5,"p2":87500},{"d":"2021-04-15","d2":"2022-04-16","p":921.8,"p2":1788}],
"boxes":[{"d":"2021-03-25","d2":"2021-12-11","p":100100,"p2":187750},{"d":"2021-06-06","d2":"2022-02-24","p":428,"p2":802},{"d":"2021-06-30","d2":"2022-03-19","p":112.6,"p2":211},{"d":"2014-02-04","d2":"2014-10-23","p":1781,"p2":3350},{"d":"2018-01-31","d2":"2018-10-19","p":24430,"p2":45640}],
"boxText":[{"d":"2021-08-02","p":159900,"t":"59 bars, 413d\nVol 11.762M"},{"d":"2021-10-15","p":684,"t":"52 bars, 364d\nVol 7.439M"},{"d":"2021-11-08","p":179.8,"t":"59 bars, 413d\nVol 7.439M"},{"d":"2014-06-14","p":2821,"t":"59 bars, 413d\nVol 7.869M"},{"d":"2018-06-11","p":38700,"t":"52 bars, 364d\nVol 13.566M"}],
"support":[{"d":"2014-12-16","d2":"2015-09-05","p":161.3,"p2":180.4},{"d":"2018-11-17","d2":"2020-04-15","p":3020,"p2":3653}],
"measure":[{"d":"2013-12-18","d2":"2013-12-18","p":168.6,"p2":1244},{"d":"2013-11-18","d2":"2014-01-20","p":1244,"p2":1244},{"d":"2013-11-18","d2":"2014-01-20","p":168.6,"p2":168.6},{"d":"2018-01-07","d2":"2018-01-07","p":3157,"p2":19890},{"d":"2017-11-25","d2":"2018-02-18","p":19890,"p2":19890},{"d":"2017-11-25","d2":"2018-02-18","p":3157,"p2":3157}],
"measureTips":[{"d":"2013-12-18","p":168.6},{"d":"2018-01-07","p":3157}],
"goldDots":[{"d":"2021-04-17","p":69690},{"d":"2021-10-23","p":71500},{"d":"2021-08-23","p":53400},{"d":"2021-10-02","p":53400},{"d":"2022-01-03","p":56500},{"d":"2022-01-11","p":51060},{"d":"2021-07-30","p":45800},{"d":"2021-06-04","p":42530},{"d":"2021-06-12","p":42530},{"d":"2021-06-20","p":44630},{"d":"2021-06-28","p":42670},{"d":"2021-06-28","p":38580},{"d":"2021-07-02","p":39000},{"d":"2021-07-10","p":38150},{"d":"2021-07-25","p":38150}],
"greenDots":[{"d":"2021-11-08","p":54190},{"d":"2021-11-28","p":48440},{"d":"2021-12-12","p":42670},{"d":"2021-12-18","p":41400},{"d":"2022-01-03","p":41400}]
},
"vconcat":[
{
"width":1826,"height":673,
"view":{"stroke":"#e0e3eb"},
"encoding":{
"x":{"field":"d","type":"temporal","title":null,"scale":{"type":"utc","domain":["2013-08-14","2023-11-02"],"padding":0},"axis":{"values":["2014-01-01","2015-01-01","2016-01-01","2017-01-01","2018-01-01","2019-01-01","2020-01-01","2021-01-01","2022-01-01","2023-01-01"],"labels":false,"ticks":false,"domain":false,"gridColor":"#e3e9f1"}},
"y":{"field":"p","type":"quantitative","title":null,"scale":{"type":"log","domain":[105.3,200800],"nice":false},"axis":{"orient":"right","offset":-75,"values":[145,225,345,520,800,1300,2000,3000,5000,8000,12000,20000,30000,50000,80000,120000,200000],"format":".2f","grid":true,"gridColor":"#e3e9f1","ticks":false,"domainColor":"#50535e","labelColor":"#50535e","labelFontSize":13.5,"labelPadding":11,"labelOverlap":false,"labelBound":false,"zindex":1}}
},
"layer":[
{"data":{"name":"ranges"},"mark":{"type":"rect","color":"#f23645","opacity":0.09},"encoding":{"x2":{"field":"d2"},"y2":{"field":"p2"}}},
{"data":{"values":[{"d":"2023-06-01","d2":"2023-11-02","p":105.3,"p2":200800}]},"mark":{"type":"rect","color":"#ffffff"},"encoding":{"x2":{"field":"d2"},"y2":{"field":"p2"}}},
{"data":{"values":[{"d":"2013-08-14","d2":"2023-03-01","p":35627.64}]},"mark":{"type":"rule","color":"#ef5350","strokeDash":[1,2],"strokeWidth":1},"encoding":{"x2":{"field":"d2"}}},
{"data":{"name":"bars"},"mark":{"type":"rule","strokeWidth":1},"encoding":{"y":{"field":"h","type":"quantitative"},"y2":{"field":"l"},"color":{"condition":{"test":"datum.c>=datum.o","value":"#26a69a"},"value":"#ef5350"}}},
{"data":{"name":"bars"},"mark":{"type":"bar","size":2.6},"encoding":{"y":{"field":"o","type":"quantitative"},"y2":{"field":"c"},"color":{"condition":{"test":"datum.c>=datum.o","value":"#26a69a"},"value":"#ef5350"}}},
{"data":{"name":"ema"},"mark":{"type":"line","color":"#3d6ef2","strokeWidth":1.2,"clip":true}},
{"data":{"name":"ma100"},"mark":{"type":"line","color":"#4caf50","strokeWidth":2.6,"clip":true}},
{"data":{"name":"ma200"},"mark":{"type":"line","color":"#ff9800","strokeWidth":2.6,"clip":true}},
{"data":{"name":"support"},"mark":{"type":"rect","color":"#4caf50","opacity":0.3},"encoding":{"x2":{"field":"d2"},"y2":{"field":"p2"}}},
{"data":{"name":"measure"},"mark":{"type":"rule","color":"#5d606b","strokeWidth":1},"encoding":{"x2":{"field":"d2"},"y2":{"field":"p2"}}},
{"data":{"name":"measureTips"},"mark":{"type":"point","shape":"M-6.5,-7 L0,0 L6.5,-7","size":4,"filled":false,"color":"#5d606b","strokeWidth":1,"opacity":1}},
{"data":{"name":"boxes"},"mark":{"type":"rect","color":"#f23645","opacity":0.2,"cornerRadius":6},"encoding":{"x2":{"field":"d2"},"y2":{"field":"p2"}}},
{"data":{"name":"boxText"},"mark":{"type":"text","font":"DejaVu Sans","color":"#131722","fontSize":14.5,"lineBreak":"\n","lineHeight":25,"baseline":"middle"},"encoding":{"text":{"field":"t"}}},
{"data":{"values":[{"d":"2014-08-19","p":127.4,"t":"4 (−86.59%) −107464"}]},"mark":{"type":"text","font":"DejaVu Sans","color":"#131722","fontSize":15.5,"align":"right"},"encoding":{"text":{"field":"t"}}},
{"data":{"values":[{"d":"2018-01-07","p":2358,"t":"−16852.88 (−84.24%) −1685288"}]},"mark":{"type":"text","font":"DejaVu Sans","color":"#131722","fontSize":15.3},"encoding":{"text":{"field":"t"}}},
{"data":{"values":[{"d":"2014-12-17","p":861,"t":"MA100/\nEMA100\nBearish Cross"},{"d":"2018-11-25","p":14040,"t":"MA100/\nEMA100\nBearish Cross"}]},"mark":{"type":"text","font":"DejaVu Sans","color":"#f23645","stroke":"#f23645","strokeWidth":0.3,"fontSize":13,"lineBreak":"\n","lineHeight":15,"baseline":"middle"},"encoding":{"text":{"field":"t"}}},
{"data":{"values":[{"d":"2014-12-17","p":468.7},{"d":"2018-11-26","p":7574}]},"mark":{"type":"point","shape":"M-6,-14 H6 V0 H12.5 L0,14 L-12.5,0 H-6 Z","size":4,"filled":true,"color":"#f23645","opacity":1}},
{"data":{"values":[{"d":"2015-01-08","p":134.7},{"d":"2015-08-11","p":130.2},{"d":"2018-12-02","p":2495},{"d":"2020-03-10","p":3122}]},"mark":{"type":"point","shape":"M0,-14 L12.5,0 H6 V14 H-6 V0 H-12.5 Z","size":4,"filled":true,"color":"#4caf50","opacity":1}},
{"data":{"values":[{"d":"2015-04-25","p":141,"t":"Support"},{"d":"2019-07-30","p":2638,"t":"Support"}]},"mark":{"type":"text","font":"DejaVu Sans","color":"#131722","stroke":"#131722","strokeWidth":0.4,"fontSize":13.5},"encoding":{"text":{"field":"t"}}},
{"data":{"values":[{"d":"2014-09-08","p":19450}]},"mark":{"type":"point","shape":"M-30,-84 H-14.5 V-58 H-2.5 V-84 H13 V-57 C38,-55 51,-44 51,-26 C51,-9 44,1 32,4 C50,2 60,16 60,36 C60,64 38,76 13,77 V84 H-2.5 V58 H-14.5 V84 H-30 V57 H-61 L-57.5,39 H-46 C-42,39 -42,35 -42,32 V-34 C-42,-40 -44,-42 -50,-42 H-61 V-58 H-30 Z M-14,-42 V-10 H5 C16,-10 23,-17 23,-26 C23,-34 18,-42 5,-42 Z M-14,5 V39 H8 C21,39 30,32 30,21 C30,13 23,5 8,5 Z","size":4,"filled":true,"color":"#ff9800","opacity":1}},
{"data":{"values":[{"d":"2015-02-25","d2":"2017-04-30","p":13330,"p2":36460}]},"mark":{"type":"rect","color":"#ff9800"},"encoding":{"x2":{"field":"d2"},"y2":{"field":"p2"}}},
{"data":{"values":[{"d":"2015-03-11","p":27240,"t":"Is this the smoothest\nBear Cycle ever?"}]},"mark":{"type":"text","font":"Open Sans","color":"#ffffff","fontSize":35.5,"fontWeight":"bold","align":"left","lineBreak":"\n","lineHeight":40,"baseline":"middle"},"encoding":{"text":{"field":"t"}}},
{"data":{"values":[{"d":"2021-03-31","p":6337}]},"mark":{"type":"point","shape":"M-24.1,45.7 L13.3,-27.3 L20.1,-24 L15,-52.3 L-7.1,-34 L6.5,-35 Z","size":4,"filled":true,"color":"#ff9800","opacity":1}},
{"data":{"values":[{"d":"2021-08-21","p":12420}]},"mark":{"type":"point","shape":"M-21.6,45.3 L6.3,-21.7 L17.1,-22.7 L10.3,-50.7 L-11.4,-32 L0,-31.7 Z","size":4,"filled":true,"color":"#5aa74e","opacity":1}},
{"data":{"values":[{"d":"2021-12-01","p":21760}]},"mark":{"type":"point","shape":"M-13.1,40 L10.7,-16.7 L18.8,-12.7 L11.4,-40 L-8.7,-21.7 L0.5,-21.7 Z","size":4,"filled":true,"color":"#3d5fe8","opacity":1}},
{"data":{"values":[{"d":"2021-02-11","p":2930,"t":"1W\nMA200"}]},"mark":{"type":"text","font":"DejaVu Sans","color":"#ff9800","stroke":"#ff9800","strokeWidth":0.3,"fontSize":13.5,"lineBreak":"\n","lineHeight":15,"baseline":"middle"},"encoding":{"text":{"field":"t"}}},
{"data":{"values":[{"d":"2021-07-08","p":5856,"t":"1W\nMA100"}]},"mark":{"type":"text","font":"DejaVu Sans","color":"#5aa74e","stroke":"#5aa74e","strokeWidth":0.3,"fontSize":13.5,"lineBreak":"\n","lineHeight":15,"baseline":"middle"},"encoding":{"text":{"field":"t"}}},
{"data":{"values":[{"d":"2021-11-04","p":10770,"t":"1W\nEMA100"}]},"mark":{"type":"text","font":"DejaVu Sans","color":"#3d5fe8","stroke":"#3d5fe8","strokeWidth":0.3,"fontSize":13.5,"lineBreak":"\n","lineHeight":15,"baseline":"middle"},"encoding":{"text":{"field":"t"}}},
{"data":{"name":"goldDots"},"mark":{"type":"point","size":90,"filled":true,"fill":"#ffd600","stroke":"#f5bd00","strokeWidth":1,"opacity":1}},
{"data":{"name":"greenDots"},"mark":{"type":"point","size":90,"filled":true,"fill":"#8fd14f","stroke":"#74bb3a","strokeWidth":1,"opacity":1}},
{"data":{"values":[{"d":"2022-02-26","d2":"2022-02-26","p":105.3,"p2":200800},{"d":"2022-04-16","d2":"2022-04-16","p":105.3,"p2":200800},{"d":"2022-06-04","d2":"2022-06-04","p":105.3,"p2":200800}]},"mark":{"type":"rule","color":"#000000","strokeDash":[5,4],"strokeWidth":1.2},"encoding":{"x2":{"field":"d2"},"y2":{"field":"p2"}}},
{"data":{"values":[{"d":"2023-01-26","p":1287}]},"mark":{"type":"point","shape":"circle","size":5000,"filled":true,"color":"#131722","opacity":0.03}},
{"data":{"values":[{"d":"2023-01-26","p":1287}]},"mark":{"type":"point","shape":"circle","size":3844,"filled":true,"color":"#ffffff","opacity":1}},
{"data":{"values":[{"d":"2023-01-30","p":1287}]},"mark":{"type":"point","shape":"M-8,-10 L9,0 L-8,10 Z","size":4,"filled":true,"color":"#2962ff","opacity":1}},
{"data":{"values":[{"d":"2023-01-26","d2":"2023-05-31","p":31980,"p2":39440},{"d":"2023-06-04","d2":"2023-11-02","p":31980,"p2":39440}]},"mark":{"type":"rect","color":"#ef5350","cornerRadius":2},"encoding":{"x2":{"field":"d2"},"y2":{"field":"p2"}}},
{"data":{"values":[{"d":"2023-03-28","p":35627.64,"t":"BTCUSD"},{"d":"2023-08-22","p":35627.64,"t":"35627.64"}]},"mark":{"type":"text","color":"#ffffff","fontSize":13.5,"fontWeight":"bold"},"encoding":{"text":{"field":"t"}}},
{"data":{"values":[{"d":"2013-09-09","p":158600,"t":"Bitcoin / U.S. Dollar · 1W · INDEX · TradingView"}]},"mark":{"type":"text","font":"DejaVu Sans","color":"#50535e","fontSize":18,"align":"left"},"encoding":{"text":{"field":"t"}}},
{"data":{"values":[{"d":"2016-01-23","p":158600,"t":"O"},{"d":"2016-07-18","p":158600,"t":"H"},{"d":"2017-01-07","p":158600,"t":"L"},{"d":"2017-06-25","p":158600,"t":"C"}]},"mark":{"type":"text","color":"#50535e","fontSize":15.5,"align":"left"},"encoding":{"text":{"field":"t"}}},
{"data":{"values":[{"d":"2016-02-17","p":158600,"t":"43077.48"},{"d":"2016-08-09","p":158600,"t":"43489.52"},{"d":"2017-01-24","p":158600,"t":"34006.32"},{"d":"2017-07-19","p":158600,"t":"35627.64"},{"d":"2017-12-14","p":158600,"t":"−7481.17 (−17.35%)"}]},"mark":{"type":"text","color":"#ef5350","fontSize":15.5,"align":"left"},"encoding":{"text":{"field":"t"}}},
{"data":{"values":[{"d":"2013-09-09","d2":"2013-11-26","p":97900,"p2":129600}]},"mark":{"type":"rect","fill":"#ffffff","stroke":"#d1d4dc","cornerRadius":3},"encoding":{"x2":{"field":"d2"},"y2":{"field":"p2"}}},
{"data":{"values":[{"d":"2013-10-06","p":113300}]},"mark":{"type":"point","shape":"M-4,-2 L0,2 L4,-2","size":4,"filled":false,"color":"#131722","strokeWidth":1.5,"opacity":1}},
{"data":{"values":[{"d":"2013-11-06","p":113300,"t":"3"}]},"mark":{"type":"text","color":"#50535e","fontSize":14},"encoding":{"text":{"field":"t"}}}
]
},
{
"width":1826,"height":2,
"data":{"values":[{"d":"2013-08-14","d2":"2023-11-02"}]},
"mark":{"type":"rect","color":"#4a4a55"},
"encoding":{"x":{"field":"d","type":"temporal","axis":null,"scale":{"type":"utc","domain":["2013-08-14","2023-11-02"]}},"x2":{"field":"d2"}}
},
{
"width":1826,"height":193.5,
"encoding":{
"x":{"field":"d","type":"temporal","title":null,"scale":{"type":"utc","domain":["2013-08-14","2023-11-02"]},"axis":{"values":["2014-01-01","2015-01-01","2016-01-01","2017-01-01","2018-01-01","2019-01-01","2020-01-01","2021-01-01","2022-01-01","2023-01-01"],"labels":false,"ticks":false,"domain":true,"domainColor":"#50535e","gridColor":"#e3e9f1"}},
"y":{"field":"p","type":"quantitative","title":null,"scale":{"domain":[23.66,98.96],"nice":false},"axis":{"orient":"right","offset":-75,"values":[40,60,80],"format":".2f","grid":true,"gridColor":"#e3e9f1","ticks":false,"domainColor":"#50535e","labelColor":"#50535e","labelFontSize":13.5,"labelPadding":11,"zindex":1}}
},
"layer":[
{"data":{"values":[{"d":"2013-11-18","d2":"2015-01-09","p":26.4,"p2":98.96},{"d":"2017-12-09","d2":"2018-12-11","p":27.6,"p2":96.9},{"d":"2021-01-07","d2":"2022-02-26","p":26.8,"p2":98.96}]},"mark":{"type":"rect","color":"#f23645","opacity":0.09},"encoding":{"x2":{"field":"d2"},"y2":{"field":"p2"}}},
{"data":{"values":[{"d":"2013-08-14","d2":"2023-06-01","p":30,"p2":70}]},"mark":{"type":"rect","color":"#7e57c2","opacity":0.1},"encoding":{"x2":{"field":"d2"},"y2":{"field":"p2"}}},
{"data":{"values":[{"d":"2023-06-01","d2":"2023-11-02","p":23.66,"p2":98.96}]},"mark":{"type":"rect","color":"#ffffff"},"encoding":{"x2":{"field":"d2"},"y2":{"field":"p2"}}},
{"data":{"values":[{"d":"2013-08-14","d2":"2023-06-01","p":30},{"d":"2013-08-14","d2":"2023-06-01","p":50},{"d":"2013-08-14","d2":"2023-06-01","p":70}]},"mark":{"type":"rule","color":"#787b86","strokeDash":[5,4],"strokeWidth":1},"encoding":{"x2":{"field":"d2"}}},
{"data":{"name":"bars"},"mark":{"type":"line","color":"#7e57c2","strokeWidth":1.3},"encoding":{"y":{"field":"r","type":"quantitative"}}},
{"data":{"values":[{"d":"2013-11-18","d2":"2014-12-23","p":98,"p2":43.2},{"d":"2017-11-05","d2":"2018-12-10","p":94.9,"p2":39.6},{"d":"2020-12-31","d2":"2022-04-14","p":96.1,"p2":53.7}]},"mark":{"type":"rule","color":"#131722","strokeWidth":1},"encoding":{"x2":{"field":"d2"},"y2":{"field":"p2"}}},
{"data":{"values":[{"d":"2014-12-23","p":43.2},{"d":"2018-12-10","p":39.6}]},"mark":{"type":"point","shape":"M-3.7,-8.2 L0,0 L-8.9,-0.9","size":4,"filled":false,"color":"#131722","strokeWidth":1,"opacity":1}},
{"data":{"values":[{"d":"2022-04-14","p":53.7}]},"mark":{"type":"point","shape":"M-5.1,-7.4 L0,0 L-9,0.7","size":4,"filled":false,"color":"#131722","strokeWidth":1,"opacity":1}},
{"data":{"values":[{"d":"2015-02-27","p":29.7},{"d":"2019-01-29","p":28.8},{"d":"2022-05-07","p":29.9}]},"mark":{"type":"point","shape":"M-14,0 L1,-12.5 V-6.5 H14 V6.5 H1 V12.5 Z","size":4,"filled":true,"color":"#4caf50","opacity":1}},
{"data":{"values":[{"d":"2015-04-07","p":30.3,"t":"1W RSI at 30.000"},{"d":"2019-03-10","p":29.2,"t":"1W RSI at 30.000"},{"d":"2022-06-15","p":30.3,"t":"1W RSI at 30.000"}]},"mark":{"type":"text","font":"DejaVu Sans","color":"#131722","fontSize":13.5,"align":"left"},"encoding":{"text":{"field":"t"}}},
{"data":{"values":[{"d":"2022-02-26","d2":"2022-02-26","p":23.66,"p2":98.96},{"d":"2022-04-16","d2":"2022-04-16","p":23.66,"p2":98.96},{"d":"2022-06-04","d2":"2022-06-04","p":23.66,"p2":98.96}]},"mark":{"type":"rule","color":"#000000","strokeDash":[5,4],"strokeWidth":1.2},"encoding":{"x2":{"field":"d2"},"y2":{"field":"p2"}}}
]
},
{
"width":1826,"height":27,
"encoding":{
"x":{"field":"d","type":"temporal","title":null,"scale":{"type":"utc","domain":["2013-08-14","2023-11-02"]},"axis":{"orient":"top","values":["2014-01-01","2015-01-01","2016-01-01","2017-01-01","2018-01-01","2019-01-01","2020-01-01","2021-01-01","2023-01-01"],"format":"%Y","labelPadding":-21,"labelColor":"#50535e","labelFontSize":13.5,"labelFontWeight":"bold","domain":false,"ticks":false,"grid":false,"labelOverlap":false,"labelFlush":false,"zindex":1}}
},
"layer":[
{"data":{"values":[{"d":"2021-11-28","d2":"2022-08-28"}]},"mark":{"type":"rect","color":"#000000"},"encoding":{"x2":{"field":"d2"}}},
{"data":{"values":[{"d":"2022-01-01","t":"21"},{"d":"2022-02-25","t":"11"},{"d":"2022-06-05","t":"30 May '22"}]},"mark":{"type":"text","color":"#ffffff","fontSize":13.5,"fontWeight":"bold","dy":3},"encoding":{"text":{"field":"t"}}}
]
}
]
}
